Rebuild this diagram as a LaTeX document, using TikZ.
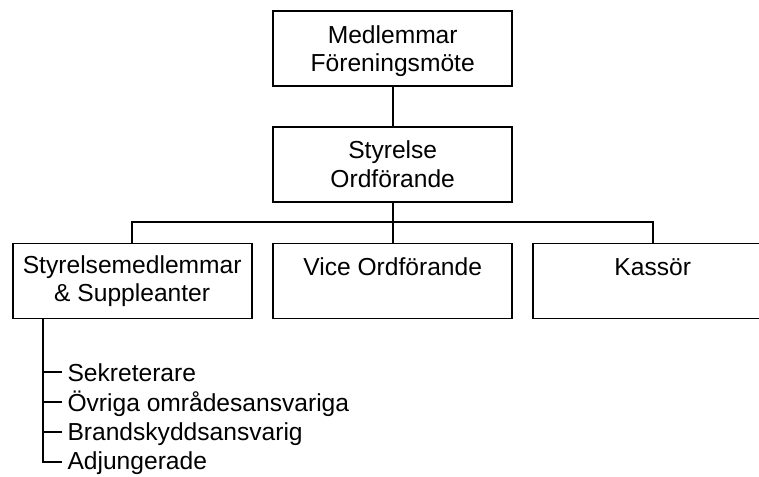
\documentclass[tikz,border=0pt]{standalone}
\usepackage{fontspec}
\setmainfont{Liberation Sans}
\begin{document}
\begin{tikzpicture}[x=1pt,y=-1pt,
  box/.style={draw=black, line width=1.8pt, rectangle, inner sep=0pt,
    minimum width=239pt, minimum height=75pt, align=center,
    font=\fontsize{24.6}{28.6}\selectfont},
  conn/.style={draw=black, line width=1.8pt},
  item/.style={anchor=base west, inner sep=0pt, font=\fontsize{24.6}{28.6}\selectfont}]
\clip (0,0) rectangle (759,476);
\node[box, text depth=0pt] (mote) at (392.7,48.5) {Medlemmar\\Föreningsmöte};
\node[box] (styr) at (392.7,164.5) {\raisebox{-1.5pt}{Styrelse}\\\raisebox{-1.5pt}{Ordförande}};
\node[box] (sup) at (132.2,281) {Styrelsemedlemmar\\\& Suppleanter};
\node[box] (vice) at (392.7,281) {Vice Ordförande\\\mbox{}};
\node[box] (kass) at (652.7,281) {Kassör\\\mbox{}};
\coordinate (bus) at (392.7,221.7);
\draw[conn] (mote.south) -- (styr.north);
\draw[conn] (styr.south) -- (bus);
\draw[conn] (sup.north) |- (bus) -| (kass.north);
\draw[conn] (bus) -- (vice.north);
% list
\coordinate (top) at (42.7,318.3);
\coordinate (t1) at (61.7,372.3);
\coordinate (t2) at (61.7,402.3);
\coordinate (t3) at (61.7,432.3);
\coordinate (t4) at (61.7,461.7);
\draw[conn] (top) |- (t4);
\draw[conn] (top |- t1) -- (t1);
\draw[conn] (top |- t2) -- (t2);
\draw[conn] (top |- t3) -- (t3);
\node[item] (i1) at (67.3,381) {Sekreterare};
\node[item] (i2) at (67.3,411) {Övriga områdesansvariga};
\node[item] (i3) at (67.3,440.5) {Brandskyddsansvarig};
\node[item] (i4) at (67.3,469.5) {Adjungerade};
\end{tikzpicture}
\end{document}
